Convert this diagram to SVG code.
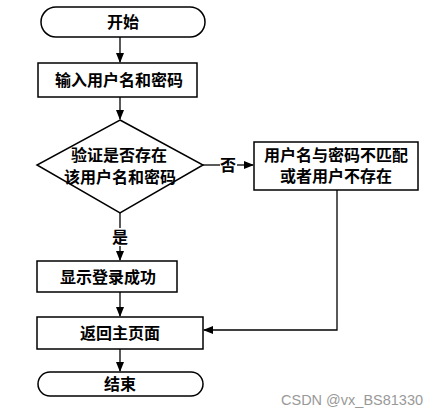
<svg xmlns="http://www.w3.org/2000/svg" width="444" height="414" viewBox="0 0 444 414">
<style>
.s{fill:#fff;stroke:#000;stroke-width:1.5}
.t{font-family:"Liberation Serif","Noto Sans CJK SC",serif;font-size:16px;font-weight:bold;fill:#000;text-anchor:middle;dominant-baseline:central}
.c{stroke:#000;stroke-width:1.3;fill:none}
.w{font-family:"Liberation Sans",Arial,sans-serif;font-size:14.5px;fill:#999}
</style>
<defs>
<marker id="a" markerWidth="10" markerHeight="8" refX="9" refY="4" orient="auto" markerUnits="userSpaceOnUse">
<path d="M0,0 L10,4 L0,8 z" fill="#000"/>
</marker>
</defs>
<rect width="444" height="414" fill="#fff"/>
<g id="connectors">
<line class="c" x1="120" y1="37" x2="120" y2="62" marker-end="url(#a)"/>
<line class="c" x1="120" y1="97" x2="120" y2="119" marker-end="url(#a)"/>
<line class="c" x1="203" y1="165" x2="220" y2="165"/>
<text class="t" x="228" y="165">否</text>
<line class="c" x1="237" y1="165" x2="253" y2="165" marker-end="url(#a)"/>
<line class="c" x1="120" y1="213" x2="120" y2="228"/>
<text class="t" x="120" y="237">是</text>
<line class="c" x1="120" y1="246" x2="120" y2="260" marker-end="url(#a)"/>
<line class="c" x1="120" y1="292" x2="120" y2="316" marker-end="url(#a)"/>
<polyline class="c" points="337,190 337,330 204,330" marker-end="url(#a)"/>
<line class="c" x1="120" y1="349" x2="120" y2="371" marker-end="url(#a)"/>
</g>
<g id="start">
<rect class="s" x="41" y="7" width="164" height="30" rx="15"/>
<text class="t" x="123" y="22">开始</text>
</g>
<g id="input">
<rect class="s" x="38" y="63" width="159" height="34"/>
<text class="t" x="119" y="80">输入用户名和密码</text>
</g>
<g id="check">
<polygon class="s" points="120,120 203,165 120,213 37,165"/>
<text class="t" x="119" y="155">验证是否存在</text>
<text class="t" x="120" y="177">该用户名和密码</text>
</g>
<g id="fail">
<rect class="s" x="254" y="142" width="164" height="48"/>
<text class="t" x="336" y="155">用户名与密码不匹配</text>
<text class="t" x="336" y="176">或者用户不存在</text>
</g>
<g id="success">
<rect class="s" x="37" y="261" width="140" height="31"/>
<text class="t" x="108" y="277">显示登录成功</text>
</g>
<g id="home">
<rect class="s" x="37" y="317" width="166" height="32"/>
<text class="t" x="120" y="333">返回主页面</text>
</g>
<g id="end">
<rect class="s" x="38" y="372" width="165" height="24" rx="12"/>
<text class="t" x="120" y="384">结束</text>
</g>
<text class="w" x="281" y="405">CSDN @vx_BS81330</text>
</svg>
